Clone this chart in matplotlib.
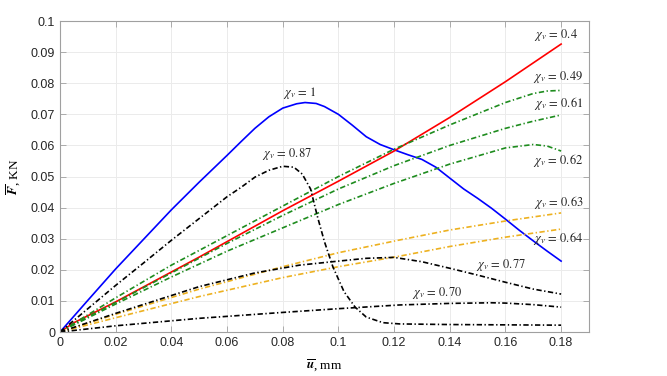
import matplotlib
matplotlib.use("Agg")
import matplotlib.pyplot as plt

plt.rcParams['mathtext.fontset'] = 'stix'
plt.rcParams['font.family'] = ['Liberation Sans', 'DejaVu Sans']

# ---- data ----
u_blue = [0, 0.01, 0.02, 0.03, 0.04, 0.05, 0.06, 0.065, 0.07, 0.075, 0.08, 0.085, 0.088, 0.092, 0.095, 0.1,
          0.105, 0.11, 0.115, 0.12, 0.125, 0.13, 0.135, 0.14, 0.145, 0.15, 0.155, 0.16, 0.165, 0.17, 0.175, 0.18]
F_blue = [0, 0.0102, 0.0203, 0.0298, 0.0393, 0.0482, 0.0568, 0.0612, 0.0655, 0.0692, 0.0720, 0.0734, 0.0738,
          0.0735, 0.0725, 0.0700, 0.0665, 0.0628, 0.0603, 0.0586, 0.0570, 0.0555, 0.0530, 0.0495, 0.0460,
          0.0430, 0.0398, 0.0363, 0.0327, 0.0293, 0.0260, 0.0228]

u_red = [0, 0.005, 0.02, 0.05, 0.08, 0.1, 0.12, 0.14, 0.16, 0.18]
F_red = [0, 0.0030, 0.0097, 0.0241, 0.0390, 0.0485, 0.0582, 0.0690, 0.0805, 0.0926]

u_g = [0, 0.005, 0.02, 0.04, 0.06, 0.08, 0.1, 0.12, 0.14, 0.16, 0.17, 0.175, 0.18]
F_g49 = [0, 0.0028, 0.011, 0.0215, 0.031, 0.0405, 0.050, 0.0588, 0.0666, 0.0738, 0.0767, 0.0775, 0.0777]
F_g61 = [0, 0.0025, 0.0095, 0.019, 0.0285, 0.0375, 0.046, 0.0535, 0.060, 0.0655, 0.0678, 0.0688, 0.0698]
F_g62 = [0, 0.0023, 0.009, 0.0177, 0.026, 0.0335, 0.041, 0.0478, 0.054, 0.0592, 0.0603, 0.0598, 0.0582]

u_o = [0, 0.02, 0.05, 0.08, 0.1, 0.122, 0.14, 0.16, 0.18]
F_o63 = [0, 0.0057, 0.0138, 0.021, 0.0255, 0.0296, 0.0328, 0.0357, 0.0383]
F_o64 = [0, 0.0046, 0.0114, 0.0175, 0.021, 0.0244, 0.0275, 0.0305, 0.0331]

u_k77 = [0, 0.02, 0.05, 0.07, 0.086, 0.1, 0.11, 0.12, 0.13, 0.14, 0.15, 0.16, 0.17, 0.18]
F_k77 = [0, 0.006, 0.0146, 0.019, 0.0215, 0.0228, 0.0237, 0.0240, 0.0226, 0.0205, 0.0183, 0.0160, 0.0138, 0.0122]

u_k70 = [0, 0.02, 0.05, 0.08, 0.1, 0.122, 0.14, 0.155, 0.16, 0.17, 0.18]
F_k70 = [0, 0.002, 0.0044, 0.0063, 0.0075, 0.0087, 0.0092, 0.0094, 0.0093, 0.0088, 0.0080]

u_k87 = [0, 0.01, 0.02, 0.03, 0.04, 0.05, 0.06, 0.065, 0.07, 0.075, 0.08, 0.084, 0.087, 0.09, 0.0925,
         0.095, 0.098, 0.102, 0.106, 0.11, 0.116, 0.122, 0.14, 0.16, 0.18]
F_k87 = [0, 0.0075, 0.015, 0.0222, 0.0295, 0.0365, 0.0435, 0.0465, 0.0498, 0.052, 0.0533, 0.0530, 0.0508,
         0.046, 0.037, 0.029, 0.021, 0.013, 0.008, 0.0048, 0.003, 0.0026, 0.0024, 0.0023, 0.0022]

labels = ['1', '0.87', '0.4', '0.49', '0.61', '0.62', '0.63', '0.64', '0.77', '0.70']
label_pos = [(0.0863, 0.0770, 'center'), (0.0815, 0.0572, 'center'),
             (0.1860, 0.0955, 'right'), (0.1880, 0.0820, 'right'), (0.1880, 0.0736, 'right'),
             (0.1880, 0.0553, 'right'), (0.1880, 0.0415, 'right'), (0.1880, 0.0300, 'right'),
             (0.1584, 0.0215, 'center'), (0.1354, 0.0125, 'center')]

xticks = [0, 0.02, 0.04, 0.06, 0.08, 0.1, 0.12, 0.14, 0.16, 0.18]
xticklabels = ['0', '0.02', '0.04', '0.06', '0.08', '0.1', '0.12', '0.14', '0.16', '0.18']
yticks = [0, 0.01, 0.02, 0.03, 0.04, 0.05, 0.06, 0.07, 0.08, 0.09, 0.1]
yticklabels = ['0', '0.01', '0.02', '0.03', '0.04', '0.05', '0.06', '0.07', '0.08', '0.09', '0.1']

# ---- plot ----
fig = plt.figure(figsize=(6.67, 3.76), dpi=100)
ax = fig.add_axes([0.09, 0.117, 0.793, 0.827])

green = '#1e8c1e'
orange = '#EDB120'
lw = 1.2
dd = (0, (3.2, 1.5, 0.8, 1.5))
ax.plot(u_blue, F_blue, color='#0000FF', lw=lw, ls='-')
ax.plot(u_red, F_red, color='#FF0000', lw=lw, ls='-')
ax.plot(u_g, F_g49, color=green, lw=lw, ls=dd)
ax.plot(u_g, F_g61, color=green, lw=lw, ls=dd)
ax.plot(u_g, F_g62, color=green, lw=lw, ls=dd)
ax.plot(u_o, F_o63, color=orange, lw=lw, ls=dd)
ax.plot(u_o, F_o64, color=orange, lw=lw, ls=dd)
ax.plot(u_k77, F_k77, color='k', lw=lw, ls=dd)
ax.plot(u_k70, F_k70, color='k', lw=lw, ls=dd)
ax.plot(u_k87, F_k87, color='k', lw=lw, ls=dd)

for lab, (x, y, ha) in zip(labels, label_pos):
    ax.text(x, y, r'$\chi_v\,=\,%s$' % lab, ha=ha, va='center', fontsize=9, color='#222222')

ax.set_xlim(0, 0.19)
ax.set_ylim(0, 0.1)
ax.set_xticks(xticks)
ax.set_xticklabels(xticklabels)
ax.set_yticks(yticks)
ax.set_yticklabels(yticklabels)
ax.grid(True, color='#ebebeb', lw=0.7)
ax.set_axisbelow(True)
for s in ax.spines.values():
    s.set_color('#a0a0a0')
    s.set_linewidth(0.8)
ax.tick_params(direction='in', top=True, right=True, length=4, width=0.6, colors='#a0a0a0',
               labelcolor='#262626', labelsize=9)

ax.set_xlabel(r'$\overline{\boldsymbol{u}}$, mm', fontsize=9.5, family='Liberation Serif', labelpad=6)
ax.set_ylabel(r'$\overline{\boldsymbol{F}}$, KN', fontsize=9.5, family='Liberation Serif', labelpad=6)

fig.savefig('out.png', dpi=100)
